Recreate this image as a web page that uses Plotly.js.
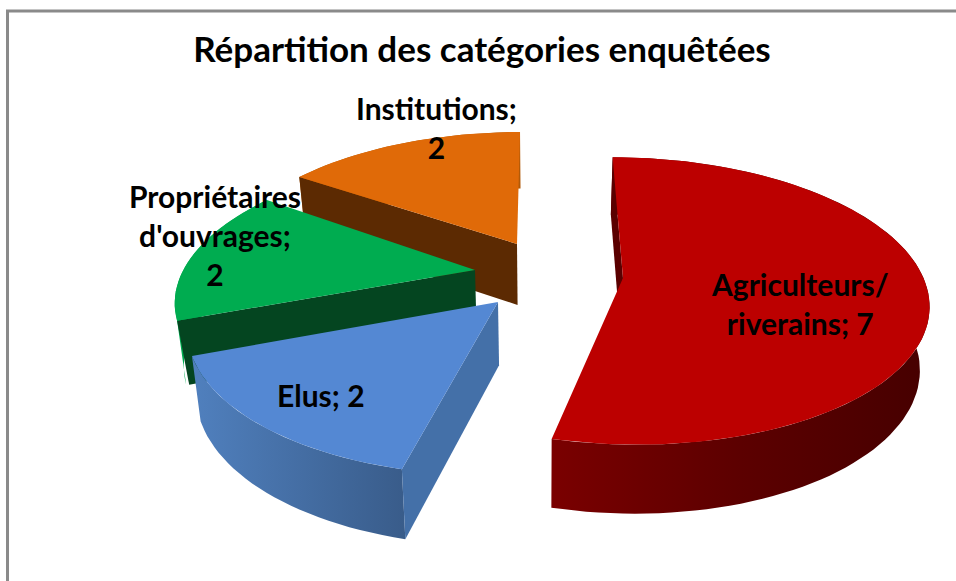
<!DOCTYPE html>
<html>
<head>
<meta charset="utf-8">
<script src="https://cdn.plot.ly/plotly-3.0.1.min.js"></script>
<style>html,body{margin:0;padding:0;background:#fff;overflow:hidden}#chart{width:956px;height:581px}</style>
</head>
<body>
<div id="chart"></div>
<script>
// Data
var categories = ['Agriculteurs/riverains', 'Elus', "Propriétaires d'ouvrages", 'Institutions'];
var values = [7, 2, 2, 2];
var labelTemplates = ['Agriculteurs/<br>riverains; %v', 'Elus; %v', "Propriétaires<br>d'ouvrages;<br>%v", 'Institutions;<br>%v'];
var chartTitle = 'Répartition des catégories enquêtées';

// Presentation: exploded 3D pie projection for each slice, on a pixel-scaled hidden axis pair
var persp = 0.16;
var geom = [
  {cx: 623, cy: 278, rx: 300.5, ry: 140, sx: -12, sy: 0, inset: 0},
  {cx: 498, cy: 302, rx: 305.6, ry: 145.6, sx: 8.3, sy: 0.7, inset: 0},
  {cx: 475, cy: 270, rx: 291.8, ry: 134.7, sx: 23, sy: -0.2, inset: 3},
  {cx: 517, cy: 244, rx: 291, ry: 130, sx: 3.5, sy: -1, inset: 0}
];
var topColors = ['#bc0000', '#5488d3', '#00ac50', '#e06a08'];
var sideColors = ['#5a0000', '#4470a8', '#044520', '#5c2a02'];
var outerScales = [
  [[0, '#7a0000'], [0.5, '#5c0000'], [1, '#460000']],
  [[0, '#5080be'], [1, '#395c8a']],
  [[0, '#00ac50'], [1, '#00ac50']],
  [[0, '#b25a08'], [1, '#b25a08']]
];
var labelPos = [[800, 303.5], [321, 394.5], [215, 235], [436, 127]];
var labelSize = 30;

function rim(g, deg) {
  var t = deg * Math.PI / 180, u = Math.sin(t), v = Math.cos(t), w = 1 / (1 + persp * v);
  return [g.cx + (g.rx * u + g.sx * v) * w, g.cy + (-g.ry * v + g.sy * u) * w];
}
function drop(p) {
  var dz = 60 + 0.04 * (p[1] - 220);
  return [540 + (p[0] - 540) * 0.975, p[1] + dz];
}
function poly(points, extra) {
  var tr = {
    type: 'scatter', mode: 'lines', hoverinfo: 'skip', fill: 'toself',
    x: points.map(function (p) { return p[0]; }),
    y: points.map(function (p) { return p[1]; }),
    line: {width: 0}
  };
  for (var k in extra) tr[k] = extra[k];
  return tr;
}

var total = values.reduce(function (a, b) { return a + b; }, 0);
var starts = [], acc = 0;
values.forEach(function (v) { starts.push(acc / total * 360); acc += v; });

var traces = [];
[3, 2, 1, 0].forEach(function (i) {
  var g = geom[i], a = starts[i], b = a + values[i] / total * 360;
  var apex = [g.cx, g.cy], arc = [], d;
  for (d = a; d < b; d += 2) arc.push(rim(g, d));
  arc.push(rim(g, b));

  // outer curved wall
  var lower = arc.map(drop).reverse();
  traces.push(poly(arc.concat(lower), {
    fillgradient: {type: 'horizontal', colorscale: outerScales[i]}
  }));
  // the visible radial face (the leading edge of each slice)
  var p0 = arc[0], q0 = drop(p0);
  traces.push(poly([apex, p0, [q0[0] + g.inset, q0[1]], drop(apex)], {fillcolor: sideColors[i]}));
  // top face
  traces.push(poly([apex].concat(arc), {fillcolor: topColors[i]}));
});

var annotations = categories.map(function (c, i) {
  return {
    x: labelPos[i][0], y: labelPos[i][1], xref: 'x', yref: 'y', showarrow: false,
    text: labelTemplates[i].replace('%v', values[i]),
    align: 'center', xanchor: 'center', yanchor: 'middle',
    font: {family: 'Lato, Carlito, sans-serif', size: labelSize, color: '#000', weight: 700}
  };
});

var layout = {
  width: 956, height: 581,
  margin: {l: 0, r: 0, t: 0, b: 0},
  paper_bgcolor: '#ffffff', plot_bgcolor: '#ffffff',
  showlegend: false, hovermode: false,
  title: {
    text: chartTitle, x: 482 / 956, xanchor: 'center', y: 1 - 50 / 581, yanchor: 'middle',
    font: {family: 'Lato, Carlito, sans-serif', size: 35, color: '#000', weight: 700}
  },
  xaxis: {range: [0, 956], visible: false, fixedrange: true},
  yaxis: {range: [581, 0], visible: false, fixedrange: true},
  annotations: annotations,
  shapes: [
    {type: 'line', xref: 'x', yref: 'y', x0: 7.5, x1: 7.5, y0: 10, y1: 581, line: {color: '#8a8a8a', width: 3}},
    {type: 'line', xref: 'x', yref: 'y', x0: 6, x1: 956, y0: 11, y1: 11, line: {color: '#8a8a8a', width: 3}}
  ]
};
Plotly.newPlot('chart', traces, layout, {displayModeBar: false, staticPlot: true});
</script>
</body>
</html>
